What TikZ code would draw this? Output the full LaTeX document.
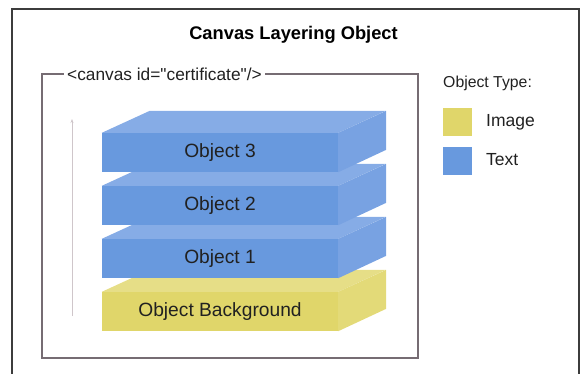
\documentclass[tikz,border=0pt]{standalone}
\usepackage{fontspec}
\setmainfont{Liberation Sans}
\newfontfamily\labelfont{Liberation Sans}
\usetikzlibrary{arrows.meta}
\definecolor{bfront}{HTML}{6899DE}
\definecolor{btop}{HTML}{86ACE6}
\definecolor{bside}{HTML}{78A2E2}
\definecolor{yfront}{HTML}{E0D66A}
\definecolor{ytop}{HTML}{E6DE87}
\definecolor{yside}{HTML}{E3DA78}
\definecolor{outerc}{HTML}{3C3C3C}
\definecolor{innerc}{HTML}{766C73}
\definecolor{arrowc}{HTML}{CFC6CA}
\definecolor{txt}{HTML}{212121}
\tikzset{
  layer/.style={rectangle, minimum width=236pt, minimum height=39pt, inner sep=0pt,
    text=txt, font=\fontsize{19.2}{22}\selectfont},
  swatch/.style={rectangle, minimum width=29pt, minimum height=28pt, inner sep=0pt},
  legendtxt/.style={anchor=west, inner sep=0pt, text=txt, font=\fontsize{17.5}{20}\selectfont},
}
\newcommand{\faces}[3]{%
  \fill[#2] (#1.north west) -- ++(48,-22) -- ++(236,0) -- (#1.north east) -- cycle;
  \fill[#3] (#1.north east) -- ++(48,-22) -- ++(0,39) -- (#1.south east) -- cycle;
}
\begin{document}
\begin{tikzpicture}[x=1pt,y=-1pt]
\useasboundingbox (0,0) rectangle (580,373);
% outer frame
\draw[outerc, line width=1.3pt] (12,380) -- (12,9) -- (579,9) -- (579,380);
% title
\node[font=\fontsize{18.3}{21}\selectfont\bfseries, text=black] (title) at (293.5,35) {Canvas Layering Object};
% inner frame
\draw[innerc, line width=1.3pt] (42,74) rectangle (418,358);
\node[anchor=west, fill=white, inner xsep=3pt, inner ysep=1pt, text=txt, font=\labelfont\fontsize{17.3}{20}\selectfont] (canvaslbl) at (64,74) {<canvas id="certificate"/>};
% arrow
\coordinate (arrbot) at (72,316);
\coordinate (arrtop) at (72,119);
\draw[arrowc, line width=1pt, -{Stealth[length=4pt,width=3pt]}] (arrbot) -- (arrtop);
% layers
\node[layer, fill=yfront] (bg) at (220,311.5) {};
\faces{bg}{ytop}{yside}
\node[layer] at (bg) {Object Background};
\node[layer, fill=bfront] (o1) at (220,258.5) {};
\faces{o1}{btop}{bside}
\node[layer] at (o1) {Object 1};
\node[layer, fill=bfront] (o2) at (220,205.5) {};
\faces{o2}{btop}{bside}
\node[layer] at (o2) {Object 2};
\node[layer, fill=bfront] (o3) at (220,152.5) {};
\faces{o3}{btop}{bside}
\node[layer] at (o3) {Object 3};
% legend
\node[legendtxt, font=\fontsize{15.8}{18}\selectfont] (legtitle) at (443,83) {Object Type:};
\node[swatch, fill=yfront, anchor=north west] (swimg) at (443,108) {};
\node[legendtxt] (limg) at (486,122) {Image};
\node[swatch, fill=bfront, anchor=north west] (swtxt) at (443,147) {};
\node[legendtxt] (ltxt) at (486,160) {Text};
\end{tikzpicture}
\end{document}
